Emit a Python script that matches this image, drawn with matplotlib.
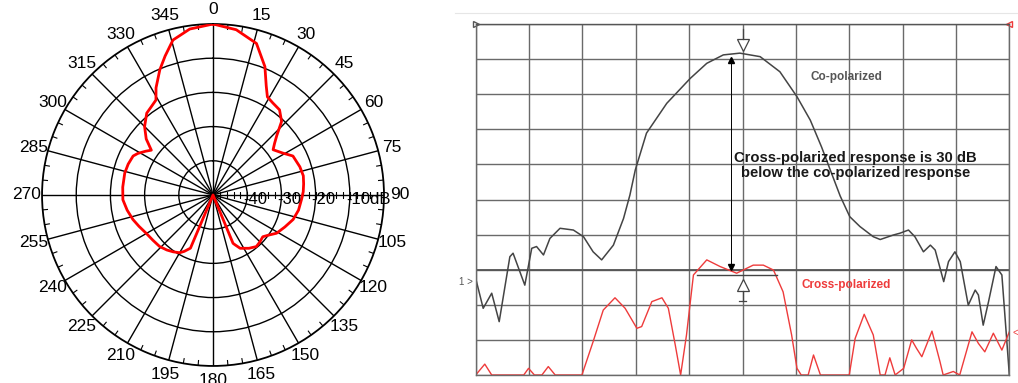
import numpy as np
import matplotlib
matplotlib.use("Agg")
import matplotlib.pyplot as plt
from matplotlib.transforms import offset_copy

plt.rcParams['font.family'] = ['Liberation Sans', 'DejaVu Sans']

# --- polar antenna pattern (angle in deg clockwise from top, level in dB)
pat_angle = [0, 8, 16, 22, 26, 29, 33, 38, 43, 47, 50, 53, 59, 64, 72, 78, 83, 88,
             93, 100, 107, 114, 121, 126, 130, 135, 140, 146, 153, 156, 157.5, 158,
             202, 203, 207, 210, 215, 220, 226, 233, 240, 247, 253, 260, 267, 275,
             284, 290, 296, 299, 303, 306, 310, 315, 321, 326, 329, 332, 337, 341,
             345.5, 352, 360]
pat_db = [0, -1.2, -3.9, -9.5, -14.5, -17.2, -17.9, -18.4, -20.6, -24.5, -26.5, -28.0,
          -26.2, -24.0, -23.3, -23.0, -23.3, -23.6, -24.1, -24.6, -25.5, -27.0, -28.3,
          -30.0, -31.0, -30.6, -30.3, -31.2, -32.5, -34.0, -34.7, -50,
          -50, -33.1, -31.5, -30.5, -29.7, -29.0, -28.3, -28.0, -27.5, -26.5, -25.5,
          -24.5, -23.6, -23.5, -23.4, -23.6, -24.0, -24.9, -26.5, -27.7, -24.5, -21.7,
          -19.2, -18.3, -17.6, -14.5, -10.2, -7.0, -3.2, -1.0, 0]
angle_labels = list(range(0, 360, 15))
ring_db = [-40, -30, -20, -10]
ring_labels = ['-40', '-30', '-20', '-10dB']

# --- co / cross polarized sweep (grid divisions)
co_x = [0, 0.14, 0.30, 0.44, 0.64, 0.70, 0.92, 1.05, 1.14, 1.27, 1.39, 1.58, 1.83,
        2.02, 2.20, 2.36, 2.58, 2.77, 2.89, 2.99, 3.20, 3.58, 4.02, 4.33, 4.64, 4.95,
        5.33, 5.70, 6.02, 6.27, 6.48, 6.67, 6.83, 7.01, 7.20, 7.45, 7.58, 7.83, 7.95,
        8.11, 8.23, 8.39, 8.52, 8.61, 8.77, 8.86, 8.98, 9.08, 9.23, 9.36, 9.42, 9.51,
        9.61, 9.75, 9.86, 10.0]
co_y = [2.75, 1.90, 2.33, 1.52, 3.37, 3.47, 2.56, 3.61, 3.66, 3.42, 3.89, 4.18, 4.13,
        3.94, 3.51, 3.28, 3.70, 4.46, 5.13, 5.84, 6.89, 7.74, 8.45, 8.88, 9.12, 9.17,
        9.07, 8.64, 7.93, 7.26, 6.50, 5.74, 5.10, 4.51, 4.23, 3.94, 3.86, 3.99, 4.04,
        4.13, 3.94, 3.51, 3.70, 3.56, 2.66, 3.23, 3.51, 3.23, 1.99, 2.42, 2.28, 1.42,
        2.09, 3.09, 2.85, 0.0]
cx_x = [0, 0.17, 0.30, 0.90, 0.99, 1.10, 1.24, 1.36, 1.49, 1.99, 2.20, 2.39, 2.61,
        2.80, 3.02, 3.11, 3.30, 3.49, 3.61, 3.74, 3.84, 3.95, 4.08, 4.33, 4.58, 4.89,
        5.20, 5.39, 5.58, 5.76, 5.92, 6.02, 6.10, 6.23, 6.33, 6.46, 7.00, 7.11, 7.28,
        7.45, 7.58, 7.67, 7.76, 7.86, 8.02, 8.17, 8.26, 8.36, 8.55, 8.70, 8.76, 8.95,
        9.07, 9.30, 9.42, 9.54, 9.70, 9.86, 10.0]
cx_y = [0, 0.31, 0, 0, 0.19, 0, 0, 0.24, 0, 0, 0.95, 1.85, 2.20, 1.90, 1.33, 1.38,
        2.09, 2.20, 1.90, 0.85, 0, 1.14, 2.85, 3.28, 3.09, 2.90, 3.13, 3.13, 2.99,
        2.37, 1.14, 0.19, 0, 0, 0.57, 0, 0, 1.04, 1.73, 1.14, 0, 0, 0.49, 0, 0.19,
        1.0, 0.76, 0.52, 1.25, 0.38, 0, 0.10, 0, 1.23, 0.90, 0.66, 1.19, 0.71, 1.23]

fig = plt.figure(figsize=(10.18, 3.83), dpi=100)

# ---------------- polar chart
ax = fig.add_axes([0.0413, 0.0444, 0.3359, 0.8930], projection='polar')
ax.set_theta_zero_location('N')
ax.set_theta_direction(-1)
ax.set_rlim(-50, 0)
ax.set_thetagrids(angle_labels, labels=[''] * len(angle_labels))
ax.set_rgrids(ring_db, labels=[''] * len(ring_db))
ax.grid(True, color='black', lw=1.0)
ax.spines['polar'].set_linewidth(1.3)
ax.tick_params(length=0)

# small ticks on outer ring every 5 deg
for a in range(0, 360, 5):
    if a % 15:
        ax.plot([np.radians(a)] * 2, [-1.4, 0], color='black', lw=0.8)
# ticks along the 90 deg axis
tick_r = np.arange(-48, -1, 2)
ax.plot(np.full(len(tick_r), np.pi / 2), tick_r, ls='none', marker='|',
        ms=4, mew=0.8, color='black')

ax.plot(np.radians(pat_angle), pat_db, color='red', lw=2.0, zorder=5)

for a in angle_labels:
    r_lab = 4.6 if a in (90, 270) else 4.2
    ax.text(np.radians(a), r_lab, str(a), ha='center', va='center', fontsize=12.5,
            clip_on=False)
lab_tr = offset_copy(ax.transData, fig=fig, x=-4, y=-5, units='dots')
for r, s in zip(ring_db, ring_labels):
    ax.text(np.pi / 2, r, s, ha='left', va='center', fontsize=12,
            transform=lab_tr, zorder=6)

# ---------------- sweep chart
ax2 = fig.add_axes([0.4673, 0.0209, 0.5242, 0.9164])
ax2.set_xlim(0, 10)
ax2.set_ylim(0, 10)
ax2.set_xticks(range(11))
ax2.set_yticks(range(11))
ax2.tick_params(length=0, labelbottom=False, labelleft=False)
ax2.grid(True, color='#6a6a6a', lw=1.0)
for s in ax2.spines.values():
    s.set_color('#6a6a6a')
    s.set_linewidth(1.0)
ax2.spines['top'].set_color('#555555')
ax2.axhline(3, color='#555555', lw=1.3)

ax2.plot(co_x, co_y, color='#444444', lw=1.1)
ax2.plot(cx_x, cx_y, color='#ee3b3b', lw=1.0)

# markers
ax2.plot([4.79, 4.79], [3.07, 8.97], color='black', lw=0.7)
ax2.plot(4.79, 8.97, marker='^', color='black', ms=5)
ax2.plot(4.78, 3.07, marker='v', color='black', ms=5)
ax2.plot([4.15, 5.65], [2.85, 2.85], color='#444444', lw=1.0)
ax2.plot(5.0, 9.4, marker='v', mfc='white', mec='#444444', ms=8, mew=0.9)
ax2.plot([5.0, 5.0], [9.57, 9.85], color='#444444', lw=0.9)
ax2.plot(5.0, 2.55, marker='^', mfc='white', mec='#444444', ms=8, mew=0.9)
ax2.plot([5.0, 5.0], [2.38, 2.1], color='#444444', lw=0.9)
ax2.plot([4.93, 5.07], [2.1, 2.1], color='#444444', lw=0.9)

ax2.plot(0, 10, marker='>', mfc='white', mec='#555555', ms=5, clip_on=False)
ax2.plot(10, 10, marker='<', mfc='white', mec='#ee3b3b', ms=5, clip_on=False)
ax2.text(-0.05, 2.65, '1 >', ha='right', va='center', fontsize=7, color='#555555')
ax2.text(10.05, 1.2, '<', ha='left', va='center', fontsize=7, color='#ee3b3b')

ax2.text(6.95, 8.5, 'Co-polarized', ha='center', va='center', fontsize=8.5,
         fontweight='bold', color='#555555')
ax2.text(7.12, 5.97, 'Cross-polarized response is 30 dB\nbelow the co-polarized response',
         ha='center', va='center', fontsize=10.6, fontweight='bold', color='#1a1a1a',
         linespacing=1.15)
ax2.text(6.95, 2.55, 'Cross-polarized', ha='center', va='center', fontsize=8.5,
         fontweight='bold', color='#ee3b3b')

fig.add_artist(plt.Line2D([0.447, 1.0], [0.966, 0.966], color='#e6e6e6', lw=0.8))

fig.savefig('out.png', dpi=100, facecolor='white')
